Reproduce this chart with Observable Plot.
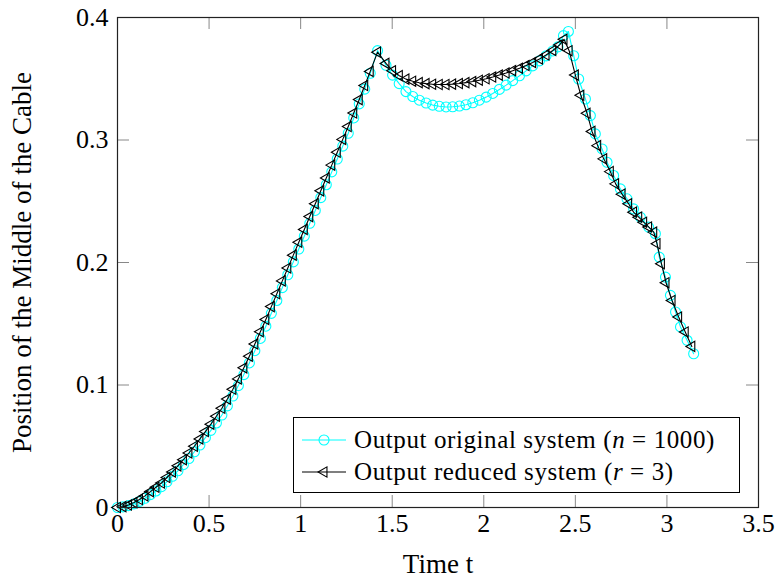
<!DOCTYPE html>
<html>
<head>
<meta charset="utf-8">
<script src="https://cdn.jsdelivr.net/npm/d3@7"></script>
<script src="https://cdn.jsdelivr.net/npm/@observablehq/plot@0.6"></script>
<style>
  html, body { margin: 0; padding: 0; background: #fff; }
  #wrap { position: relative; width: 780px; height: 585px; font-family: "Liberation Serif", serif; }
  #legend { position: absolute; left: 293px; top: 417px; width: 447px; height: 76px; box-sizing: border-box;
            border: 1px solid #000; background: #fff; font-size: 25px; letter-spacing: 0.6px; color: #000; }
  .row { position: absolute; left: 0; height: 32px; display: flex; align-items: center; white-space: nowrap; }
  .row svg { margin-left: 8px; margin-right: 8px; }
</style>
</head>
<body>
<div id="wrap"><div id="chart"></div><div id="legend"></div></div>
<script>
// ---- data ----
const xTicks = [0, 0.5, 1, 1.5, 2, 2.5, 3, 3.5];
const xTickLabels = ["0", "0.5", "1", "1.5", "2", "2.5", "3", "3.5"];
const yTicks = [0, 0.1, 0.2, 0.3, 0.4];
const yTickLabels = ["0", "0.1", "0.2", "0.3", "0.4"];
const xLabel = "Time t";
const yLabel = "Position of the Middle of the Cable";

const seriesNames = ["Output original system", "Output reduced system"];
const seriesVars = ["n", "r"];
const seriesVals = ["1000", "3"];

// original system (n = 1000)
const tOriginal = [
  0, 0.03, 0.06, 0.09, 0.12, 0.15, 0.18, 0.21, 0.24, 0.27, 0.30, 0.33, 0.36, 0.39, 0.42, 0.45,
  0.48, 0.51, 0.54, 0.57, 0.60, 0.63, 0.66, 0.69, 0.72, 0.75, 0.78, 0.81, 0.84, 0.87, 0.90, 0.93,
  0.96, 0.99, 1.02, 1.05, 1.08, 1.11, 1.14, 1.17, 1.20, 1.23, 1.26, 1.29, 1.32, 1.35, 1.38, 1.42,
  1.466, 1.502, 1.538, 1.575, 1.612, 1.648, 1.685, 1.721, 1.757, 1.794, 1.830, 1.867, 1.903, 1.940,
  1.976, 2.013, 2.049, 2.085, 2.122, 2.158, 2.195, 2.231, 2.267, 2.304, 2.340, 2.377, 2.405, 2.435, 2.462,
  2.491, 2.518, 2.555, 2.582, 2.609, 2.646, 2.673, 2.709, 2.746, 2.782, 2.818, 2.855, 2.900, 2.937,
  2.958, 2.992, 3.019, 3.047, 3.074, 3.110, 3.146
];
const yOriginal = [
  0, 0.0005, 0.0015, 0.003, 0.005, 0.0075, 0.0105, 0.0135, 0.017, 0.021, 0.0255, 0.030, 0.035, 0.040, 0.0455, 0.051,
  0.057, 0.063, 0.069, 0.0755, 0.083, 0.091, 0.0995, 0.1085, 0.118, 0.128, 0.138, 0.148, 0.1585, 0.169, 0.1795, 0.190,
  0.2005, 0.211, 0.2215, 0.232, 0.2425, 0.253, 0.2635, 0.274, 0.2845, 0.295, 0.3055, 0.318, 0.3295, 0.3415, 0.3545, 0.373,
  0.361, 0.353, 0.346, 0.3395, 0.3355, 0.3325, 0.3302, 0.3285, 0.3275, 0.3270, 0.3271, 0.3277, 0.3288, 0.3304,
  0.3325, 0.3350, 0.3380, 0.3413, 0.3448, 0.3485, 0.3524, 0.3564, 0.3605, 0.3646, 0.3687, 0.3727, 0.3760, 0.3852, 0.3886,
  0.3688, 0.3498, 0.3335, 0.3199, 0.3050, 0.2927, 0.2818, 0.2710, 0.2601, 0.2520, 0.2438, 0.2370, 0.2289, 0.2235,
  0.2044, 0.1881, 0.1732, 0.1596, 0.1474, 0.1365, 0.1255
];

// reduced system (r = 3)
const tReduced = [
  0, 0.03, 0.06, 0.09, 0.12, 0.15, 0.18, 0.21, 0.24, 0.27, 0.30, 0.33, 0.36, 0.39, 0.42, 0.45,
  0.48, 0.51, 0.54, 0.57, 0.60, 0.63, 0.66, 0.69, 0.72, 0.75, 0.78, 0.81, 0.84, 0.87, 0.90, 0.93,
  0.96, 0.99, 1.02, 1.05, 1.08, 1.11, 1.14, 1.17, 1.20, 1.23, 1.26, 1.29, 1.32, 1.35, 1.38, 1.42,
  1.466, 1.502, 1.539, 1.575, 1.612, 1.648, 1.685, 1.721, 1.757, 1.794, 1.830, 1.867, 1.903, 1.940,
  1.976, 2.013, 2.049, 2.085, 2.122, 2.158, 2.195, 2.231, 2.267, 2.304, 2.340, 2.377, 2.413, 2.438,
  2.466, 2.500, 2.530, 2.564, 2.591, 2.622, 2.655, 2.691, 2.720, 2.755, 2.791, 2.818, 2.846, 2.873,
  2.900, 2.928, 2.946, 2.970, 2.995, 3.028, 3.064, 3.100, 3.136
];
const yReduced = [
  0, 0.0007, 0.002, 0.004, 0.0065, 0.0095, 0.013, 0.0165, 0.020, 0.0245, 0.029, 0.034, 0.039, 0.0445, 0.050, 0.056,
  0.062, 0.068, 0.0745, 0.081, 0.0885, 0.0965, 0.105, 0.114, 0.1235, 0.1335, 0.1435, 0.1535, 0.164, 0.1745, 0.185, 0.1955,
  0.206, 0.2165, 0.227, 0.2375, 0.248, 0.2585, 0.269, 0.2795, 0.290, 0.3005, 0.311, 0.322, 0.333, 0.3445, 0.356, 0.3717,
  0.3625, 0.3565, 0.3525, 0.3497, 0.3480, 0.3468, 0.3460, 0.3455, 0.3453, 0.3453, 0.3456, 0.3461, 0.3468, 0.3477,
  0.3488, 0.3500, 0.3514, 0.3530, 0.3547, 0.3566, 0.3586, 0.3608, 0.3633, 0.3662, 0.3694, 0.3731, 0.3775, 0.3822,
  0.3729, 0.3530, 0.3365, 0.3218, 0.3070, 0.2954, 0.2846, 0.2742, 0.2642, 0.2558, 0.2479, 0.2411, 0.2370, 0.2329,
  0.2290, 0.2248, 0.2153, 0.1990, 0.1835, 0.1690, 0.1555, 0.1433, 0.1315
];

const original = tOriginal.map((t, i) => ({t, y: yOriginal[i]}));
const reduced = tReduced.map((t, i) => ({t, y: yReduced[i]}));

// ---- layout ----
const W = 780, H = 585;
const mL = 117, mR = 22, mT = 17, mB = 78;
const innerW = W - mL - mR, innerH = H - mT - mB;
const tick = 12;
const cyan = "#00ffff";

const chart = Plot.plot({
  width: W, height: H,
  marginLeft: mL, marginRight: mR, marginTop: mT, marginBottom: mB,
  style: {fontFamily: "'Liberation Serif', serif", fontSize: "26px", color: "#000", background: "#fff"},
  x: {domain: [0, 3.5], label: null},
  y: {domain: [0, 0.4], label: null},
  marks: [
    Plot.ruleX(xTicks, {stroke: "#888", strokeWidth: 1, insetTop: innerH - tick}),
    Plot.ruleX(xTicks, {stroke: "#888", strokeWidth: 1, insetBottom: innerH - tick}),
    Plot.ruleY(yTicks, {stroke: "#888", strokeWidth: 1, insetRight: innerW - tick}),
    Plot.ruleY(yTicks, {stroke: "#888", strokeWidth: 1, insetLeft: innerW - tick}),
    Plot.axisX(xTicks, {tickSize: 0, tickPadding: 6, tickFormat: d => xTickLabels[xTicks.indexOf(d)], label: null}),
    Plot.axisY(yTicks, {tickSize: 0, tickPadding: 9, tickFormat: d => yTickLabels[yTicks.indexOf(d)], label: null}),
    Plot.text([xLabel], {text: d => d, frameAnchor: "bottom", dy: 65, textAnchor: "middle", fontSize: 27, fill: "#000"}),
    Plot.text([yLabel], {text: d => d, frameAnchor: "left", dx: -95, rotate: -90, textAnchor: "middle", fontSize: 27, fill: "#000"}),
    Plot.line(original, {x: "t", y: "y", stroke: cyan, strokeWidth: 1.1}),
    Plot.dot(original, {x: "t", y: "y", r: 5, stroke: cyan, fill: "none", strokeWidth: 1.1}),
    Plot.line(reduced, {x: "t", y: "y", stroke: "#000", strokeWidth: 1.1}),
    Plot.dot(reduced, {x: "t", y: "y", symbol: "triangle", r: 3.8, rotate: -90, stroke: "#000", fill: "none", strokeWidth: 1.1}),
    Plot.frame({stroke: "#222", strokeWidth: 1.2})
  ]
});
document.getElementById("chart").appendChild(chart);

// ---- legend ----
const legend = document.getElementById("legend");
const markers = [
  {color: cyan, path: d3.symbol(d3.symbolCircle, Math.PI * 25)(), rotate: 0},
  {color: "#000", path: d3.symbol(d3.symbolTriangle, Math.PI * 3.8 * 3.8)(), rotate: -90}
];
const rowTops = [6, 38];
seriesNames.forEach((name, i) => {
  const row = document.createElement("div");
  row.className = "row";
  row.style.top = rowTops[i] + "px";
  const m = markers[i];
  row.innerHTML =
    `<svg width="44" height="20" viewBox="0 0 44 20">` +
    `<line x1="0" x2="44" y1="10" y2="10" stroke="${m.color}" stroke-width="1.1"/>` +
    `<path d="${m.path}" transform="translate(22,10) rotate(${m.rotate})" fill="none" stroke="${m.color}" stroke-width="1.1"/>` +
    `</svg>` +
    `<span>${name} (<i>${seriesVars[i]}</i> = ${seriesVals[i]})</span>`;
  legend.appendChild(row);
});
</script>
</body>
</html>
